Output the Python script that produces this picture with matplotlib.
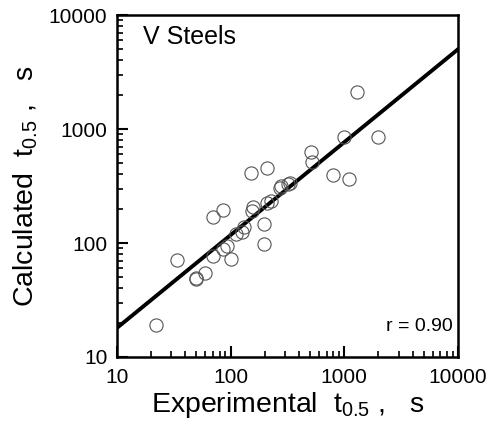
import numpy as np
import matplotlib
matplotlib.use('Agg')
import matplotlib.pyplot as plt

plt.rcParams['font.family'] = ['Liberation Sans', 'DejaVu Sans']
plt.rcParams['mathtext.fontset'] = 'custom'
plt.rcParams['mathtext.rm'] = 'Liberation Sans'

# Datos (t0.5 experimental vs calculado, s)
t_exp = [22, 34, 50, 50, 60, 70, 100, 86, 92, 112, 125, 131, 70, 85,
         151, 210, 198, 198, 158, 155, 210, 225, 272, 280, 321, 330,
         506, 519, 798, 1104, 998, 1297, 1986]
t_calc = [19, 71, 48, 49, 55, 77, 72, 88, 95, 120, 126, 137, 168, 194,
          408, 458, 147, 98, 208, 192, 226, 235, 302, 318, 330, 335,
          632, 517, 395, 362, 855, 2099, 845]

# Recta de ajuste (extremos leidos)
fit_x = [10, 10000]
fit_y = [18, 5000]

fig = plt.figure(figsize=(4.97, 4.25), dpi=100)
ax = fig.add_axes([0.2354, 0.16, 0.686, 0.8047])

ax.plot(fit_x, fit_y, color='black', lw=2.8, zorder=2)
ax.plot(t_exp, t_calc, 'o', ms=9.5, mfc='none', mec='#555555', mew=0.8, zorder=3)

ax.set_xscale('log')
ax.set_yscale('log')
ax.set_xlim(10, 10000)
ax.set_ylim(10, 10000)
ax.set_xticks([10, 100, 1000, 10000])
ax.set_xticklabels(['10', '100', '1000', '10000'])
ax.set_yticks([10, 100, 1000, 10000])
ax.set_yticklabels(['10', '100', '1000', '10000'])

ax.tick_params(which='major', direction='in', length=8, width=1.5, labelsize=15,
               top=False, right=False)
ax.tick_params(axis='x', which='major', pad=8)
ax.tick_params(axis='y', which='major', pad=7)
ax.tick_params(which='minor', direction='in', length=4, width=1.2,
               top=False, right=False)
for s in ax.spines.values():
    s.set_linewidth(1.8)

ax.text(0.075, 0.971, 'V Steels', transform=ax.transAxes, fontsize=18,
        ha='left', va='top')
ax.text(0.985, 0.09, 'r = 0.90', transform=ax.transAxes, fontsize=14,
        ha='right', va='center')

ax.set_xlabel(r'Experimental  $\mathregular{t_{0.5}}$ ,   s', fontsize=20.5, labelpad=2)
ax.set_ylabel(r'Calculated  $\mathregular{t_{0.5}}$ ,   s', fontsize=20.5, labelpad=6)

fig.savefig('out.png', dpi=100)
